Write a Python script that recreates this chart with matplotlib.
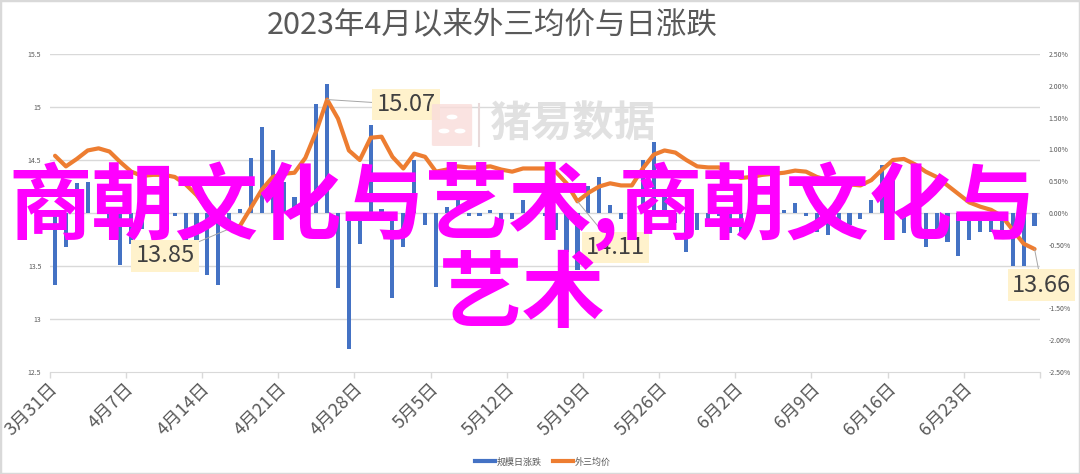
import matplotlib
matplotlib.use('Agg')
import matplotlib.pyplot as plt
import numpy as np
from matplotlib.patches import Rectangle, FancyBboxPatch, Circle
from matplotlib.lines import Line2D

plt.rcParams['font.family'] = ['Noto Sans CJK SC', 'DejaVu Sans']

# 外三均价 (元/公斤), 3月31日 ~ 6月29日, one value per day
price = [14.54, 14.44, 14.51, 14.59, 14.61, 14.58, 14.48, 14.39, 14.35, 14.36,
         14.36, 14.34, 14.27, 14.17, 14.04, 13.94, 13.85, 13.88, 14.05, 14.22,
         14.34, 14.37, 14.38, 14.52, 14.77, 15.07, 14.89, 14.59, 14.50, 14.71,
         14.72, 14.53, 14.42, 14.56, 14.53, 14.39, 14.41, 14.44, 14.43, 14.43,
         14.44, 14.41, 14.39, 14.42, 14.42, 14.42, 14.39, 14.28, 14.11, 14.19,
         14.25, 14.28, 14.26, 14.26, 14.42, 14.55, 14.59, 14.57, 14.50, 14.44,
         14.43, 14.43, 14.38, 14.33, 14.34, 14.36, 14.37, 14.38, 14.40, 14.39,
         14.34, 14.31, 14.30, 14.27, 14.26, 14.31, 14.41, 14.50, 14.51, 14.46,
         14.39, 14.34, 14.26, 14.18, 14.10, 14.06, 14.03, 13.97, 13.84, 13.71,
         13.66]

# 规模日涨跌 (%)
change = [-1.13, -0.53, 0.47, 0.48, 0.15, -0.20, -0.82, -0.48, -0.25, 0.08,
          -0.03, -0.05, -0.45, -0.70, -0.97, -1.13, -0.12, 0.07, 0.86, 1.36,
          0.99, 0.49, 0.25, 0.60, 1.72, 2.03, -1.18, -2.14, -0.48, 1.38,
          0.07, -1.34, -0.53, 0.83, -0.19, -1.16, 0.10, 0.30, -0.05, -0.05,
          0.05, -0.20, -0.10, 0.20, 0.05, -0.05, -0.27, -0.61, -0.90, 0.43,
          0.57, 0.13, -0.10, 0.05, 0.83, 1.12, 0.25, -0.15, -0.61, -0.27,
          -0.10, -0.05, -0.32, -0.30, 0.15, 0.10, 0.05, 0.05, 0.15, -0.05,
          -0.30, -0.35, -0.20, -0.19, -0.10, 0.20, 0.75, 0.62, -0.32, -0.25,
          -0.53, -0.35, -0.45, -0.68, -0.42, -0.30, -0.30, -0.37, -0.84, -0.84,
          -0.21]

date_labels = ['3月31日', '4月7日', '4月14日', '4月21日', '4月28日', '5月5日',
               '5月12日', '5月19日', '5月26日', '6月2日', '6月9日', '6月16日',
               '6月23日']
label_idx = [0, 7, 14, 21, 28, 35, 42, 49, 56, 63, 70, 77, 84]

price_ticks = [12.5, 13, 13.5, 14, 14.5, 15, 15.5]
price_labels = ['12.5', '13', '13.5', '14', '14.5', '15', '15.5']
pct_ticks = [-2.5, -2.0, -1.5, -1.0, -0.5, 0.0, 0.5, 1.0, 1.5, 2.0, 2.5]
pct_labels = ['-2.50%', '-2.00%', '-1.50%', '-1.00%', '-0.50%', '0.00%',
              '0.50%', '1.00%', '1.50%', '2.00%', '2.50%']

annot_idx = [25, 16, 48, 90]
annot_offset = [(79, -5), (-64, -27), (38, -46), (7, -36)]

W, H = 1080, 474
fig = plt.figure(figsize=(10.8, 4.74), dpi=100)


def fx(x):
    return x / W


def fy(y):
    return 1 - y / H


ax = fig.add_axes([fx(49.6), fy(372), fx(1040) - fx(49.6), fy(54) - fy(372)])
ax2 = ax.twinx()
ax.set_zorder(2)
ax.patch.set_visible(False)

x = np.arange(len(price))

# gridlines (price scale) drawn behind the bars
for p in price_ticks[1:]:
    ax2.add_line(Line2D([0, 1], [p, p], transform=ax.get_yaxis_transform(),
                        color='#d9d9d9', lw=1.0, zorder=0.5))

ax2.bar(x, change, width=0.38, color='#4472C4', zorder=2)
ax.plot(x, price, color='#ED7D31', lw=3.0, solid_capstyle='round',
        solid_joinstyle='round', zorder=3)

ax.set_xlim(-0.5, len(price) - 0.5)
ax.set_ylim(12.5, 15.5)
ax2.set_ylim(-2.5, 2.5)

ax.set_yticks(price_ticks)
ax.set_yticklabels(price_labels)
ax2.set_yticks(pct_ticks)
ax2.set_yticklabels(pct_labels)
ax.tick_params(axis='y', length=0, labelsize=5, labelcolor='#595959', pad=6)
ax2.tick_params(axis='y', length=0, labelsize=5, labelcolor='#595959', pad=6)

ax.set_xticks(np.arange(-0.5, len(price), 7))
ax.set_xticklabels([])
ax.tick_params(axis='x', which='major', length=4, color='#d9d9d9', width=1)
ax.set_xticks(label_idx, minor=True)
ax.set_xticklabels(date_labels, minor=True, rotation=45, ha='right',
                   va='center', rotation_mode='anchor')
ax.tick_params(axis='x', which='minor', length=0, pad=10, labelsize=13,
               labelcolor='#595959')

for s in ['top', 'left', 'right']:
    ax.spines[s].set_visible(False)
ax.spines['bottom'].set_color('#d9d9d9')
for s in ax2.spines.values():
    s.set_visible(False)

# data labels
for i, off in zip(annot_idx, annot_offset):
    ax.annotate(f'{price[i]:.2f}', xy=(i, price[i]), xytext=off,
                textcoords='offset pixels', ha='center', va='center',
                fontsize=17, color='#404040', zorder=6, annotation_clip=False,
                bbox=dict(boxstyle='square,pad=0.18', fc='#FFF2CC', ec='none'),
                arrowprops=dict(arrowstyle='-', color='#a6a6a6', lw=0.7,
                                shrinkA=0, shrinkB=0))

# title
fig.text(fx(492), fy(25), '2023年4月以来外三均价与日涨跌', ha='center',
         va='center', fontsize=22, color='#595959')

# watermark
fig.add_artist(FancyBboxPatch((fx(434), fy(145)), fx(36), fy(105) - fy(145),
                              boxstyle='round,pad=0.002', transform=fig.transFigure,
                              fc='#f9dcda', ec='none', alpha=0.8, zorder=4))
for cx, cy in [(452, 117), (444, 131), (460, 131)]:
    fig.add_artist(Circle((fx(cx), fy(cy)), 5.5 / W, transform=fig.transFigure,
                          fc='white', ec='none', zorder=4.1))
fig.add_artist(Line2D([fx(479), fx(479)], [fy(104), fy(146)],
                      transform=fig.transFigure, color='#e8dada', lw=1.5, zorder=4))
fig.text(fx(572), fy(125), '猪易数据', ha='center', va='center', fontsize=30,
         fontweight='bold', color='#dedede', alpha=0.9, zorder=4)

# legend
handles = [Line2D([], [], color='#4472C4', lw=3), Line2D([], [], color='#ED7D31', lw=3)]
leg = fig.legend(handles, ['规模日涨跌', '外三均价'], loc='center',
                 bbox_to_anchor=(fx(543), fy(462)), ncol=2, frameon=False,
                 fontsize=6.5, handlelength=2.2, handletextpad=0.2,
                 columnspacing=1.2)
for t in leg.get_texts():
    t.set_color('#595959')

# overlay text
fig.text(fx(522), fy(250), '商朝文化与艺术,商朝文化与\n艺术', ha='center',
         va='center', fontsize=60, fontweight='bold', color='#FF00FF',
         linespacing=1.05, zorder=10)

# chart border
fig.add_artist(Rectangle((0, 0), 1, 1, transform=fig.transFigure, fill=False,
                         ec='#d9d9d9', lw=2.5))

fig.savefig('out.png', dpi=100)
